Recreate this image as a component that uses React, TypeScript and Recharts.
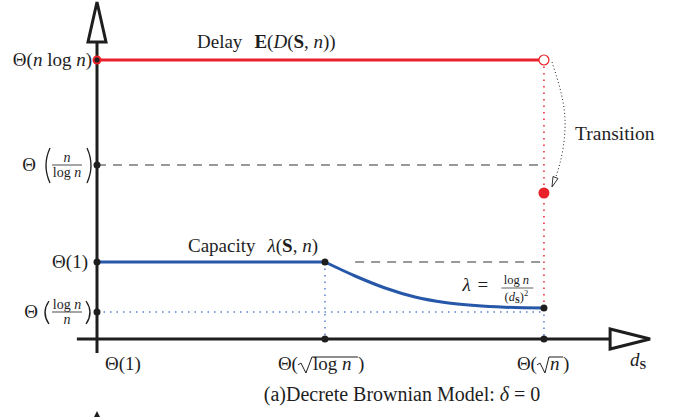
import React from "react";
import {
  ComposedChart,
  Line,
  XAxis,
  YAxis,
  ReferenceLine,
  ReferenceDot,
} from "recharts";

const FONT = '"Liberation Serif", "Times New Roman", serif';
const INK = "#1e1e1e";
const RED = "#e8212b";
const BLUE = "#2657a8";
const LIGHT_BLUE = "#5a80d0";

// x positions: Θ(1), Θ(√log n), Θ(√n)
const xTicks = [0, 1.02, 2];
// y levels: Θ(log n / n), Θ(1), Θ(n / log n), Θ(n log n)
const yTicks = [0.27, 0.77, 1.74, 2.79];

const delay = [
  { x: 0, y: 2.79 },
  { x: 2, y: 2.79 },
];
const capacityFlat = [
  { x: 0, y: 0.77 },
  { x: 1.02, y: 0.77 },
];
const capacityDecay = [
  { x: 1.02, y: 0.77 },
  { x: 1.155, y: 0.63 },
  { x: 1.289, y: 0.51 },
  { x: 1.423, y: 0.42 },
  { x: 1.557, y: 0.365 },
  { x: 1.692, y: 0.335 },
  { x: 1.826, y: 0.318 },
  { x: 2, y: 0.31 },
];
const transition = [
  { x: 2.036, y: 2.77 },
  { x: 2.081, y: 2.42 },
  { x: 2.094, y: 2.09 },
  { x: 2.072, y: 1.76 },
  { x: 2.036, y: 1.52 },
];
const delayAfter = { x: 2, y: 1.46 };

const blackDots = [
  { x: 0, y: 0.27 },
  { x: 0, y: 0.77 },
  { x: 0, y: 1.74 },
  { x: 1.02, y: 0.77 },
  { x: 2, y: 0.31 },
  { x: 1.02, y: 0 },
  { x: 2, y: 0 },
];

const txt = { fontFamily: FONT, fill: INK };

function Paren({ x, top, bottom, left }: any) {
  const mid = (top + bottom) / 2;
  const d = left
    ? `M${x + 4},${top} Q${x - 4},${mid} ${x + 4},${bottom}`
    : `M${x},${top} Q${x + 8},${mid} ${x},${bottom}`;
  return <path d={d} fill="none" stroke={INK} strokeWidth={1.3} />;
}

function YTick(props: any) {
  const { x, y, payload } = props;
  const i = yTicks.indexOf(payload.value);
  if (i === 3)
    return (
      <text x={x - 5} y={y + 6} fontSize={19} textAnchor="end" {...txt}>
        Θ(<tspan fontStyle="italic">n</tspan> log <tspan fontStyle="italic">n</tspan>)
      </text>
    );
  if (i === 1)
    return (
      <text x={x - 9} y={y + 6} fontSize={19} textAnchor="end" {...txt}>
        Θ(1)
      </text>
    );
  if (i === 2)
    return (
      <g>
        <text x={x - 61} y={y + 6} fontSize={19} textAnchor="end" {...txt}>Θ</text>
        <Paren x={x - 51} top={y - 17} bottom={y + 18} left />
        <text x={x - 30} y={y - 3} fontSize={14} textAnchor="middle" fontStyle="italic" {...txt}>n</text>
        <line x1={x - 45} x2={x - 15} y1={y} y2={y} stroke={INK} strokeWidth={0.8} />
        <text x={x - 30} y={y + 12} fontSize={14} textAnchor="middle" {...txt}>
          log <tspan fontStyle="italic">n</tspan>
        </text>
        <Paren x={x - 10} top={y - 17} bottom={y + 18} />
      </g>
    );
  return (
    <g>
      <text x={x - 59} y={y + 6} fontSize={19} textAnchor="end" {...txt}>Θ</text>
      <Paren x={x - 52} top={y - 11} bottom={y + 12} left />
      <text x={x - 30} y={y - 3} fontSize={14} textAnchor="middle" {...txt}>
        log <tspan fontStyle="italic">n</tspan>
      </text>
      <line x1={x - 45} x2={x - 15} y1={y} y2={y} stroke={INK} strokeWidth={0.8} />
      <text x={x - 30} y={y + 12} fontSize={14} textAnchor="middle" fontStyle="italic" {...txt}>n</text>
      <Paren x={x - 11} top={y - 11} bottom={y + 12} />
    </g>
  );
}

function XTick(props: any) {
  const { x, y, payload } = props;
  const i = xTicks.indexOf(payload.value);
  if (i === 0)
    return (
      <text x={x + 8} y={y + 31} fontSize={19} {...txt}>
        Θ(1)
      </text>
    );
  if (i === 1)
    return (
      <g>
        <text x={x - 27} y={y + 31} fontSize={19} textAnchor="end" {...txt}>Θ(</text>
        <path
          d={`M${x - 27},${y + 26} L${x - 24},${y + 24} L${x - 19},${y + 34} L${x - 13},${y + 18} H${x + 33}`}
          fill="none"
          stroke={INK}
          strokeWidth={1}
        />
        <text x={x - 12} y={y + 31} fontSize={19} {...txt}>
          log <tspan fontStyle="italic">n</tspan>
        </text>
        <text x={x + 33} y={y + 31} fontSize={19} {...txt}>)</text>
      </g>
    );
  return (
    <g>
      <text x={x - 7} y={y + 31} fontSize={19} textAnchor="end" {...txt}>Θ(</text>
      <path
        d={`M${x - 7},${y + 26} L${x - 4},${y + 24} L${x + 1},${y + 34} L${x + 5},${y + 18} H${x + 19}`}
        fill="none"
        stroke={INK}
        strokeWidth={1}
      />
      <text x={x + 6} y={y + 31} fontSize={19} fontStyle="italic" {...txt}>n</text>
      <text x={x + 19} y={y + 31} fontSize={19} {...txt}>)</text>
    </g>
  );
}

// annotation anchors in data units
const labels = [
  { id: "delay", x: 0.4475, y: 2.79 },
  { id: "capacity", x: 0.407, y: 0.77 },
  { id: "transition", x: 2.139, y: 1.99 },
  { id: "lambda", x: 1.635, y: 0.48 },
  { id: "ds", x: 2.385, y: 0 },
  { id: "caption", x: 1.365, y: 0 },
];

function Note({ id, cx, cy }: any) {
  if (id === "delay")
    return (
      <text x={cx} y={cy - 12} fontSize={19} {...txt}>
        Delay
        <tspan dx={12} fontWeight="bold">E</tspan>(<tspan fontStyle="italic">D</tspan>(
        <tspan fontWeight="bold">S</tspan>, <tspan fontStyle="italic">n</tspan>))
      </text>
    );
  if (id === "capacity")
    return (
      <text x={cx} y={cy - 10} fontSize={19} {...txt}>
        Capacity
        <tspan dx={12} fontStyle="italic">λ</tspan>(<tspan fontWeight="bold">S</tspan>,{" "}
        <tspan fontStyle="italic">n</tspan>)
      </text>
    );
  if (id === "transition")
    return (
      <text x={cx} y={cy} fontSize={19.5} {...txt}>
        Transition
      </text>
    );
  if (id === "lambda")
    return (
      <g>
        <text x={cx} y={cy} fontSize={19} fontStyle="italic" {...txt}>λ</text>
        <text x={cx + 15} y={cy} fontSize={19} {...txt}>=</text>
        <text x={cx + 54} y={cy - 7} fontSize={12.5} textAnchor="middle" {...txt}>
          log <tspan fontStyle="italic">n</tspan>
        </text>
        <line x1={cx + 39} x2={cx + 71} y1={cy - 3} y2={cy - 3} stroke={INK} strokeWidth={0.7} />
        <text x={cx + 54} y={cy + 10} fontSize={12.5} textAnchor="middle" {...txt}>
          (<tspan fontStyle="italic">d</tspan>
          <tspan fontSize={8.5} fontWeight="bold" dy={2}>S</tspan>
          <tspan dy={-2}>)</tspan>
          <tspan fontSize={8.5} dy={-5}>2</tspan>
        </text>
      </g>
    );
  if (id === "ds")
    return (
      <text x={cx} y={cy + 27} fontSize={19} {...txt}>
        <tspan fontStyle="italic">d</tspan>
        <tspan fontSize={12} fontWeight="bold" dy={3}>S</tspan>
      </text>
    );
  return (
    <text x={cx} y={cy + 62} fontSize={20} textAnchor="middle" {...txt}>
      (a)Decrete Brownian Model: <tspan fontStyle="italic">δ</tspan> = 0
    </text>
  );
}

const YArrow = ({ cx, cy }: any) => (
  <path
    d={`M${cx},${cy} L${cx - 9},${cy + 40} L${cx + 9},${cy + 40} Z`}
    fill="#fff"
    stroke={INK}
    strokeWidth={3}
  />
);
const XArrow = ({ cx, cy }: any) => (
  <path
    d={`M${cx},${cy} L${cx - 40},${cy - 10} L${cx - 40},${cy + 10} Z`}
    fill="#fff"
    stroke={INK}
    strokeWidth={3}
  />
);
const NextFigArrow = ({ cx, cy }: any) => (
  <path d={`M${cx},${cy + 72} L${cx - 3},${cy + 78} L${cx + 3},${cy + 78} Z`} fill={INK} />
);
const ArrowTip = ({ cx, cy }: any) => (
  <path
    d={`M${cx},${cy} L${cx + 6},${cy - 8.5} L${cx + 1},${cy - 10.5} Z`}
    fill="#fff"
    stroke={INK}
    strokeWidth={0.9}
  />
);

export default function App() {
  return (
    <div style={{ position: "absolute", left: 0, top: 0, background: "#fff" }}>
      <ComposedChart width={685} height={417} margin={{ top: 5, right: 34, bottom: 0, left: 0 }}>
        <XAxis
          type="number"
          dataKey="x"
          domain={[0, 2.479]}
          ticks={xTicks}
          tick={XTick}
          axisLine={false}
          tickLine={false}
          tickSize={0}
          tickMargin={0}
          height={78}
          allowDataOverflow
        />
        <YAxis
          type="number"
          dataKey="y"
          domain={[0, 3.34]}
          ticks={yTicks}
          tick={YTick}
          axisLine={false}
          tickLine={false}
          tickSize={0}
          tickMargin={0}
          width={97}
          allowDataOverflow
        />

        {/* guide lines */}
        <ReferenceLine segment={[{ x: 0, y: 1.74 }, { x: 2, y: 1.74 }]} stroke="#333" strokeWidth={1} strokeDasharray="9 7" />
        <ReferenceLine segment={[{ x: 1.155, y: 0.77 }, { x: 2, y: 0.77 }]} stroke="#333" strokeWidth={1} strokeDasharray="9 7" />
        <ReferenceLine segment={[{ x: 0, y: 0.27 }, { x: 2, y: 0.27 }]} stroke={LIGHT_BLUE} strokeWidth={1.5} strokeDasharray="1.5 5" />
        <ReferenceLine segment={[{ x: 1.02, y: 0.77 }, { x: 1.02, y: 0 }]} stroke={LIGHT_BLUE} strokeWidth={1.5} strokeDasharray="1.5 5" />
        <ReferenceLine segment={[{ x: 2, y: 0.31 }, { x: 2, y: 0 }]} stroke={LIGHT_BLUE} strokeWidth={1.5} strokeDasharray="1.5 5" />
        <ReferenceLine segment={[{ x: 2, y: 2.79 }, { x: 2, y: 0.31 }]} stroke={RED} strokeWidth={1.5} strokeDasharray="1.5 5" />

        {/* axes */}
        <ReferenceLine segment={[{ x: 0, y: -0.14 }, { x: 0, y: 2.97 }]} stroke={INK} strokeWidth={3} ifOverflow="visible" />
        <ReferenceLine segment={[{ x: -0.09, y: 0 }, { x: 2.296, y: 0 }]} stroke={INK} strokeWidth={3} ifOverflow="visible" />
        <ReferenceDot x={0} y={3.37} r={1} ifOverflow="visible" shape={YArrow} />
        <ReferenceDot x={2.475} y={0} r={1} ifOverflow="visible" shape={XArrow} />
        <ReferenceDot x={0} y={0} r={1} ifOverflow="visible" shape={NextFigArrow} />

        <Line data={delay} dataKey="y" type="linear" stroke={RED} strokeWidth={3} dot={false} activeDot={false} isAnimationActive={false} />
        <Line data={capacityFlat} dataKey="y" type="linear" stroke={BLUE} strokeWidth={3} dot={false} activeDot={false} isAnimationActive={false} />
        <Line data={capacityDecay} dataKey="y" type="monotone" stroke={BLUE} strokeWidth={3} dot={false} activeDot={false} isAnimationActive={false} />
        <Line data={transition} dataKey="y" type="natural" stroke={INK} strokeWidth={1} strokeDasharray="1 2.5" dot={false} activeDot={false} isAnimationActive={false} />

        <ReferenceDot x={transition[transition.length - 1].x} y={transition[transition.length - 1].y} r={1} shape={ArrowTip} ifOverflow="visible" />

        {blackDots.map((d, i) => (
          <ReferenceDot key={i} x={d.x} y={d.y} r={3.5} fill={INK} stroke="none" ifOverflow="visible" />
        ))}
        <ReferenceDot x={0} y={2.79} r={4.5} fill={RED} stroke="none" />
        <ReferenceDot x={0} y={2.79} r={2.5} fill={INK} stroke="none" />
        <ReferenceDot x={2} y={2.79} r={5} fill="#fff" stroke={RED} strokeWidth={1.2} />
        <ReferenceDot x={delayAfter.x} y={delayAfter.y} r={5.5} fill={RED} stroke="none" />

        {labels.map((l) => (
          <ReferenceDot
            key={l.id}
            x={l.x}
            y={l.y}
            r={1}
            ifOverflow="visible"
            shape={(p: any) => <Note id={l.id} cx={p.cx} cy={p.cy} />}
          />
        ))}
      </ComposedChart>
    </div>
  );
}
